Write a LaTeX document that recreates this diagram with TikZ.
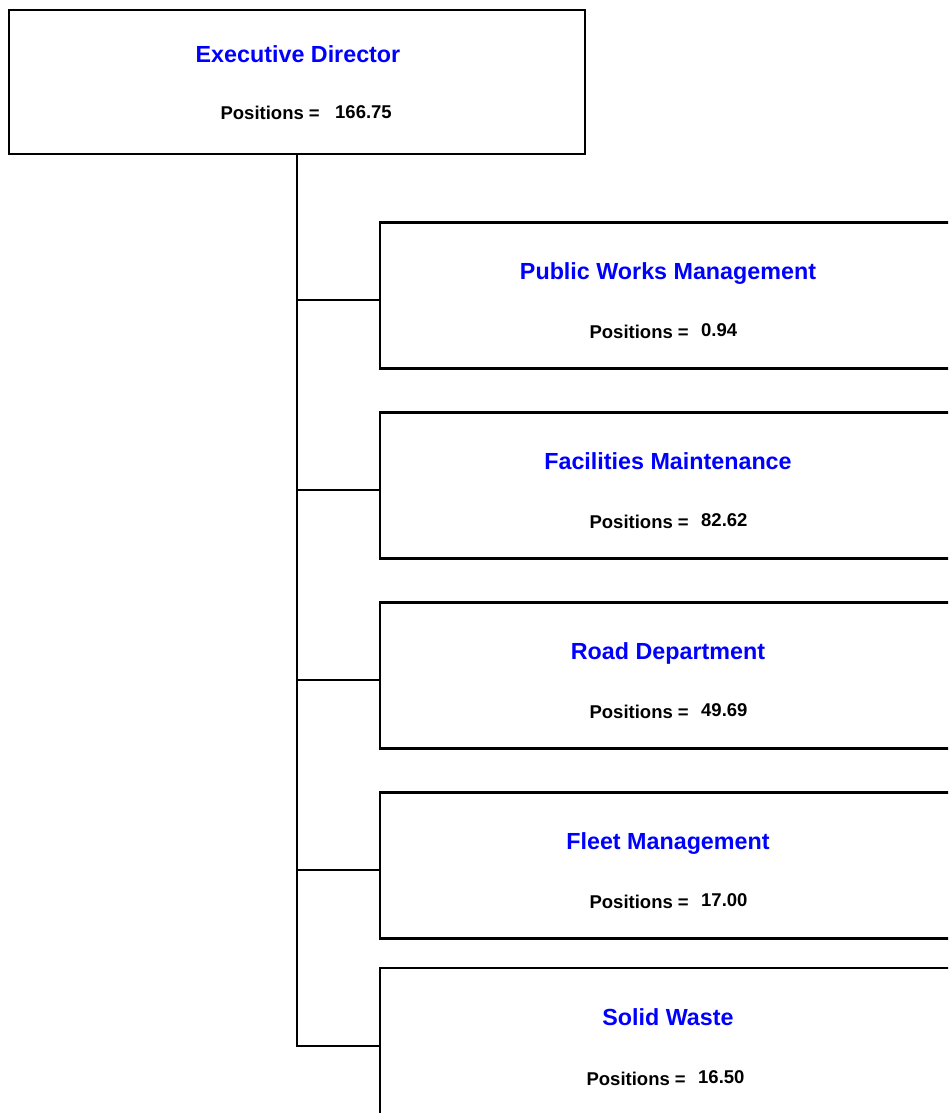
\documentclass[tikz,border=0pt]{standalone}
\usepackage{fontspec}
\setmainfont{Liberation Sans}
\begin{document}
\begin{tikzpicture}[x=1pt,y=-1pt,
  box/.style={draw=black,line width=2.2pt,minimum width=578pt,minimum height=146pt,inner sep=0pt,fill=white},
  title/.style={anchor=base,inner sep=0pt,text=blue,font=\fontsize{23.3}{28}\selectfont\bfseries},
  poslbl/.style={anchor=base east,inner sep=0pt,font=\fontsize{18.5}{22}\selectfont\bfseries},
  posnum/.style={anchor=base west,inner sep=0pt,font=\fontsize{18.5}{22}\selectfont\bfseries},
  conn/.style={draw=black,line width=2pt}]
\useasboundingbox (0,0) rectangle (948,1113);
\clip (0,0) rectangle (948,1113);
\fill[white] (0,0) rectangle (948,1113);
% top box
\node[box,minimum width=576pt,minimum height=144pt] (ed) at (297,82) {};
\node[title] (edt) at (298,63) {Executive Director};
\node[poslbl] (edp) at (320,120) {Positions =};
\node[posnum] (edn) at (335,118.3) {166.75};
% connectors
\draw[conn] (ed.south) -- ++(0,891) coordinate (trunkend);
% boxes
\node[box] (b1) at (669,295.5) {};
\node[box] (b2) at (669,485.5) {};
\node[box] (b3) at (669,675.5) {};
\node[box] (b4) at (669,865.5) {};
\node[box] (b5) at (669,1041) {};
\foreach \b in {b1,b2,b3,b4,b5}{
  \draw[conn] (ed.south) |- ([yshift=-4.5pt]\b.west);
}
\node[title] (b1t) at (668,279) {Public Works Management};
\node[poslbl] (b1p) at (689,338) {Positions =};
\node[posnum] (b1n) at (701,336.3) {0.94};
\node[title] (b2t) at (668,469) {Facilities Maintenance};
\node[poslbl] (b2p) at (689,528) {Positions =};
\node[posnum] (b2n) at (701,526.3) {82.62};
\node[title] (b3t) at (668,659) {Road Department};
\node[poslbl] (b3p) at (689,718) {Positions =};
\node[posnum] (b3n) at (701,716.3) {49.69};
\node[title] (b4t) at (668,849) {Fleet Management};
\node[poslbl] (b4p) at (689,908) {Positions =};
\node[posnum] (b4n) at (701,906.3) {17.00};
\node[title] (b5t) at (668,1025) {Solid Waste};
\node[poslbl] (b5p) at (686,1085) {Positions =};
\node[posnum] (b5n) at (698,1083.3) {16.50};
\end{tikzpicture}
\end{document}
